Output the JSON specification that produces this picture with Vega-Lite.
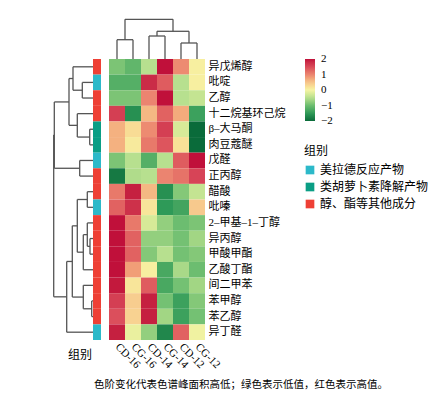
{
  "$schema": "https://vega.github.io/schema/vega-lite/v6.json",
  "padding": {"left": 53, "top": 17, "right": 5, "bottom": 5},
  "config": {
    "view": {"stroke": null},
    "font": "Liberation Serif, Noto Sans CJK SC",
    "axis": {"labelColor": "#000", "labelFont": "Liberation Serif, Noto Sans CJK SC"},
    "legend": {"labelColor": "#000", "titleColor": "#000", "labelFont": "Liberation Serif, Noto Sans CJK SC", "titleFont": "Liberation Serif, Noto Sans CJK SC"}
  },
  "title": {"text": "色阶变化代表色谱峰面积高低；绿色表示低值，红色表示高值。", "orient": "bottom", "anchor": "middle", "fontSize": 10.5, "fontWeight": "normal", "offset": 10, "color": "#000"},
  "datasets": {
    "groups": [
      {"c": "异戊烯醇", "g": "醇、酯等其他成分"},
      {"c": "吡啶", "g": "美拉德反应产物"},
      {"c": "乙醇", "g": "醇、酯等其他成分"},
      {"c": "十二烷基环己烷", "g": "醇、酯等其他成分"},
      {"c": "β–大马酮", "g": "类胡萝卜素降解产物"},
      {"c": "肉豆蔻醚", "g": "类胡萝卜素降解产物"},
      {"c": "戊醛", "g": "美拉德反应产物"},
      {"c": "正丙醇", "g": "醇、酯等其他成分"},
      {"c": "醋酸", "g": "醇、酯等其他成分"},
      {"c": "吡嗪", "g": "美拉德反应产物"},
      {"c": "2–甲基–1–丁醇", "g": "醇、酯等其他成分"},
      {"c": "异丙醇", "g": "醇、酯等其他成分"},
      {"c": "甲酸甲酯", "g": "醇、酯等其他成分"},
      {"c": "乙酸丁酯", "g": "醇、酯等其他成分"},
      {"c": "间二甲苯", "g": "醇、酯等其他成分"},
      {"c": "苯甲醇", "g": "醇、酯等其他成分"},
      {"c": "苯乙醇", "g": "醇、酯等其他成分"},
      {"c": "异丁醛", "g": "美拉德反应产物"}
    ],
    "cells": [
      {"c": "异戊烯醇", "s": "CD-16", "v": -0.9}, {"c": "异戊烯醇", "s": "CG-16", "v": -1.1}, {"c": "异戊烯醇", "s": "CD-14", "v": -0.5}, {"c": "异戊烯醇", "s": "CG-14", "v": 2.0}, {"c": "异戊烯醇", "s": "CD-12", "v": 0.95}, {"c": "异戊烯醇", "s": "CG-12", "v": 0.05},
      {"c": "吡啶", "s": "CD-16", "v": -1.2}, {"c": "吡啶", "s": "CG-16", "v": -1.2}, {"c": "吡啶", "s": "CD-14", "v": 1.8}, {"c": "吡啶", "s": "CG-14", "v": 1.35}, {"c": "吡啶", "s": "CD-12", "v": -0.5}, {"c": "吡啶", "s": "CG-12", "v": 0.05},
      {"c": "乙醇", "s": "CD-16", "v": -0.9}, {"c": "乙醇", "s": "CG-16", "v": -0.9}, {"c": "乙醇", "s": "CD-14", "v": 1.0}, {"c": "乙醇", "s": "CG-14", "v": 2.0}, {"c": "乙醇", "s": "CD-12", "v": -0.5}, {"c": "乙醇", "s": "CG-12", "v": -0.4},
      {"c": "十二烷基环己烷", "s": "CD-16", "v": 1.6}, {"c": "十二烷基环己烷", "s": "CG-16", "v": -1.6}, {"c": "十二烷基环己烷", "s": "CD-14", "v": 0.6}, {"c": "十二烷基环己烷", "s": "CG-14", "v": 1.3}, {"c": "十二烷基环己烷", "s": "CD-12", "v": 0.7}, {"c": "十二烷基环己烷", "s": "CG-12", "v": -1.4},
      {"c": "β–大马酮", "s": "CD-16", "v": 0.65}, {"c": "β–大马酮", "s": "CG-16", "v": 0.25}, {"c": "β–大马酮", "s": "CD-14", "v": 0.95}, {"c": "β–大马酮", "s": "CG-14", "v": 1.6}, {"c": "β–大马酮", "s": "CD-12", "v": -0.25}, {"c": "β–大马酮", "s": "CG-12", "v": -2.0},
      {"c": "肉豆蔻醚", "s": "CD-16", "v": 0.65}, {"c": "肉豆蔻醚", "s": "CG-16", "v": 0.1}, {"c": "肉豆蔻醚", "s": "CD-14", "v": 1.1}, {"c": "肉豆蔻醚", "s": "CG-14", "v": 1.4}, {"c": "肉豆蔻醚", "s": "CD-12", "v": 0.2}, {"c": "肉豆蔻醚", "s": "CG-12", "v": -2.0},
      {"c": "戊醛", "s": "CD-16", "v": -0.9}, {"c": "戊醛", "s": "CG-16", "v": -0.5}, {"c": "戊醛", "s": "CD-14", "v": -1.2}, {"c": "戊醛", "s": "CG-14", "v": -0.5}, {"c": "戊醛", "s": "CD-12", "v": 1.35}, {"c": "戊醛", "s": "CG-12", "v": 2.0},
      {"c": "正丙醇", "s": "CD-16", "v": -1.85}, {"c": "正丙醇", "s": "CG-16", "v": -0.55}, {"c": "正丙醇", "s": "CD-14", "v": -0.5}, {"c": "正丙醇", "s": "CG-14", "v": 1.0}, {"c": "正丙醇", "s": "CD-12", "v": 1.15}, {"c": "正丙醇", "s": "CG-12", "v": 1.55},
      {"c": "醋酸", "s": "CD-16", "v": 1.1}, {"c": "醋酸", "s": "CG-16", "v": 1.9}, {"c": "醋酸", "s": "CD-14", "v": 0.6}, {"c": "醋酸", "s": "CG-14", "v": -1.6}, {"c": "醋酸", "s": "CD-12", "v": -0.85}, {"c": "醋酸", "s": "CG-12", "v": -0.4},
      {"c": "吡嗪", "s": "CD-16", "v": 1.3}, {"c": "吡嗪", "s": "CG-16", "v": 1.75}, {"c": "吡嗪", "s": "CD-14", "v": 0.15}, {"c": "吡嗪", "s": "CG-14", "v": -1.5}, {"c": "吡嗪", "s": "CD-12", "v": -1.35}, {"c": "吡嗪", "s": "CG-12", "v": 0.45},
      {"c": "2–甲基–1–丁醇", "s": "CD-16", "v": 2.0}, {"c": "2–甲基–1–丁醇", "s": "CG-16", "v": 1.1}, {"c": "2–甲基–1–丁醇", "s": "CD-14", "v": -0.25}, {"c": "2–甲基–1–丁醇", "s": "CG-14", "v": -0.75}, {"c": "2–甲基–1–丁醇", "s": "CD-12", "v": -1.0}, {"c": "2–甲基–1–丁醇", "s": "CG-12", "v": -0.9},
      {"c": "异丙醇", "s": "CD-16", "v": 2.0}, {"c": "异丙醇", "s": "CG-16", "v": 1.3}, {"c": "异丙醇", "s": "CD-14", "v": -0.75}, {"c": "异丙醇", "s": "CG-14", "v": -0.75}, {"c": "异丙醇", "s": "CD-12", "v": -0.95}, {"c": "异丙醇", "s": "CG-12", "v": -0.65},
      {"c": "甲酸甲酯", "s": "CD-16", "v": 2.0}, {"c": "甲酸甲酯", "s": "CG-16", "v": 1.3}, {"c": "甲酸甲酯", "s": "CD-14", "v": -0.85}, {"c": "甲酸甲酯", "s": "CG-14", "v": -0.5}, {"c": "甲酸甲酯", "s": "CD-12", "v": -0.95}, {"c": "甲酸甲酯", "s": "CG-12", "v": -0.85},
      {"c": "乙酸丁酯", "s": "CD-16", "v": 2.0}, {"c": "乙酸丁酯", "s": "CG-16", "v": 0.8}, {"c": "乙酸丁酯", "s": "CD-14", "v": 0.05}, {"c": "乙酸丁酯", "s": "CG-14", "v": -1.3}, {"c": "乙酸丁酯", "s": "CD-12", "v": -0.6}, {"c": "乙酸丁酯", "s": "CG-12", "v": -1.0},
      {"c": "间二甲苯", "s": "CD-16", "v": 1.95}, {"c": "间二甲苯", "s": "CG-16", "v": 0.15}, {"c": "间二甲苯", "s": "CD-14", "v": 1.35}, {"c": "间二甲苯", "s": "CG-14", "v": -1.3}, {"c": "间二甲苯", "s": "CD-12", "v": -0.95}, {"c": "间二甲苯", "s": "CG-12", "v": -0.65},
      {"c": "苯甲醇", "s": "CD-16", "v": 1.6}, {"c": "苯甲醇", "s": "CG-16", "v": 0.4}, {"c": "苯甲醇", "s": "CD-14", "v": 1.9}, {"c": "苯甲醇", "s": "CG-14", "v": -0.95}, {"c": "苯甲醇", "s": "CD-12", "v": -1.4}, {"c": "苯甲醇", "s": "CG-12", "v": -0.85},
      {"c": "苯乙醇", "s": "CD-16", "v": 1.45}, {"c": "苯乙醇", "s": "CG-16", "v": 0.35}, {"c": "苯乙醇", "s": "CD-14", "v": 1.9}, {"c": "苯乙醇", "s": "CG-14", "v": -0.65}, {"c": "苯乙醇", "s": "CD-12", "v": -1.4}, {"c": "苯乙醇", "s": "CG-12", "v": -0.95},
      {"c": "异丁醛", "s": "CD-16", "v": 1.9}, {"c": "异丁醛", "s": "CG-16", "v": -0.1}, {"c": "异丁醛", "s": "CD-14", "v": -0.75}, {"c": "异丁醛", "s": "CG-14", "v": -1.7}, {"c": "异丁醛", "s": "CD-12", "v": 1.3}, {"c": "异丁醛", "s": "CG-12", "v": -0.05}
    ],
    "rowtree": [
      {"h": 10.7, "p1": 1.5, "h1": 0, "p2": 2.5, "h2": 0},
      {"h": 20, "p1": 0.5, "h1": 0, "p2": 2.0, "h2": 10.7},
      {"h": 3.3, "p1": 4.5, "h1": 0, "p2": 5.5, "h2": 0},
      {"h": 15.7, "p1": 3.5, "h1": 0, "p2": 5.0, "h2": 3.3},
      {"h": 24, "p1": 1.25, "h1": 20, "p2": 4.25, "h2": 15.7},
      {"h": 13.3, "p1": 6.5, "h1": 0, "p2": 7.5, "h2": 0},
      {"h": 38.7, "p1": 2.75, "h1": 24, "p2": 7.0, "h2": 13.3},
      {"h": 5.7, "p1": 8.5, "h1": 0, "p2": 9.5, "h2": 0},
      {"h": 3, "p1": 11.5, "h1": 0, "p2": 12.5, "h2": 0},
      {"h": 5.7, "p1": 10.5, "h1": 0, "p2": 12.0, "h2": 3},
      {"h": 9.7, "p1": 11.25, "h1": 5.7, "p2": 13.5, "h2": 0},
      {"h": 15.7, "p1": 9.0, "h1": 5.7, "p2": 12.375, "h2": 9.7},
      {"h": 1.3, "p1": 15.5, "h1": 0, "p2": 16.5, "h2": 0},
      {"h": 9.7, "p1": 14.5, "h1": 0, "p2": 16.0, "h2": 1.3},
      {"h": 20.7, "p1": 10.6875, "h1": 15.7, "p2": 15.25, "h2": 9.7},
      {"h": 26.3, "p1": 12.96875, "h1": 20.7, "p2": 17.5, "h2": 0},
      {"h": 39.3, "p1": 4.875, "h1": 38.7, "p2": 15.234, "h2": 26.3}
    ],
    "coltree": [
      {"h": 19.3, "p1": 0.5, "h1": 0, "p2": 1.5, "h2": 0},
      {"h": 23, "p1": 2.5, "h1": 0, "p2": 3.5, "h2": 0},
      {"h": 16, "p1": 4.5, "h1": 0, "p2": 5.5, "h2": 0},
      {"h": 27.7, "p1": 3.0, "h1": 23, "p2": 5.0, "h2": 16},
      {"h": 39.7, "p1": 1.0, "h1": 19.3, "p2": 4.0, "h2": 27.7}
    ]
  },
  "columns": 3,
  "spacing": 0,
  "bounds": "flush",
  "resolve": {"scale": {"color": "independent", "fill": "independent"}, "legend": {"color": "independent", "fill": "independent"}},
  "concat": [
    {"width": 40, "height": 42, "data": {"values": []}, "mark": "point"},
    {"width": 16, "height": 42, "data": {"values": []}, "mark": "point"},
    {
      "width": 96, "height": 42,
      "data": {"name": "coltree"},
      "layer": [
        {"mark": {"type": "rule", "color": "#555", "strokeWidth": 1.3},
         "encoding": {
           "y": {"field": "h", "type": "quantitative", "scale": {"domain": [0, 42], "nice": false, "zero": false}, "axis": null},
           "x": {"field": "p1", "type": "quantitative", "scale": {"domain": [0, 6], "nice": false, "zero": false}, "axis": null},
           "x2": {"field": "p2"}}},
        {"mark": {"type": "rule", "color": "#555", "strokeWidth": 1.3},
         "encoding": {
           "y": {"field": "h1", "type": "quantitative"},
           "y2": {"field": "h"},
           "x": {"field": "p1", "type": "quantitative"}}},
        {"mark": {"type": "rule", "color": "#555", "strokeWidth": 1.3},
         "encoding": {
           "y": {"field": "h2", "type": "quantitative"},
           "y2": {"field": "h"},
           "x": {"field": "p2", "type": "quantitative"}}}
      ]
    },
    {
      "width": 40, "height": 281,
      "data": {"name": "rowtree"},
      "layer": [
        {"mark": {"type": "rule", "color": "#555", "strokeWidth": 1.3},
         "encoding": {
           "x": {"field": "h", "type": "quantitative", "scale": {"domain": [0, 40], "reverse": true, "nice": false, "zero": false}, "axis": null},
           "y": {"field": "p1", "type": "quantitative", "scale": {"domain": [0, 18], "reverse": true, "nice": false, "zero": false}, "axis": null},
           "y2": {"field": "p2"}}},
        {"mark": {"type": "rule", "color": "#555", "strokeWidth": 1.3},
         "encoding": {
           "x": {"field": "h1", "type": "quantitative"},
           "x2": {"field": "h"},
           "y": {"field": "p1", "type": "quantitative"}}},
        {"mark": {"type": "rule", "color": "#555", "strokeWidth": 1.3},
         "encoding": {
           "x": {"field": "h2", "type": "quantitative"},
           "x2": {"field": "h"},
           "y": {"field": "p2", "type": "quantitative"}}}
      ]
    },
    {
      "width": 16, "height": 281,
      "data": {"name": "groups"},
      "mark": "rect",
      "encoding": {
        "x": {"datum": "组别", "type": "nominal", "scale": {"paddingInner": 0, "paddingOuter": 0.5, "align": 0},
              "axis": {"title": null, "labelAngle": 0, "labelAlign": "right", "labelBaseline": "top", "ticks": false, "domain": false, "labelFontSize": 12, "labelPadding": 9, "labelOffset": -5}},
        "y": {"field": "c", "type": "nominal", "sort": null, "scale": {"paddingInner": 0, "paddingOuter": 0}, "axis": null},
        "color": {"field": "g", "type": "nominal",
                  "scale": {"domain": ["美拉德反应产物", "类胡萝卜素降解产物", "醇、酯等其他成分"], "range": ["#2cb9c9", "#0a9e85", "#ee4035"]},
                  "legend": null}
      }
    },
    {
      "width": 96, "height": 281,
      "layer": [
        {
          "data": {"name": "cells"},
          "mark": "rect",
          "encoding": {
            "x": {"field": "s", "type": "nominal", "sort": ["CD-16", "CG-16", "CD-14", "CG-14", "CD-12", "CG-12"],
                  "scale": {"paddingInner": 0, "paddingOuter": 0},
                  "axis": {"title": null, "labelAngle": 45, "labelAlign": "left", "labelBaseline": "middle", "ticks": false, "domain": false, "labelFontSize": 11, "labelPadding": 5}},
            "y": {"field": "c", "type": "nominal", "sort": null,
                  "scale": {"paddingInner": 0, "paddingOuter": 0},
                  "axis": {"orient": "right", "title": null, "ticks": false, "domain": false, "labelFontSize": 11, "labelPadding": 3}},
            "color": {"field": "v", "type": "quantitative",
                      "scale": {"domain": [-2, 2],
                                "range": ["#0a6b3a", "#2e9a58", "#6cbd70", "#b7e08f", "#f6f4a4", "#f6c48c", "#eb8470", "#d9485a", "#c0103a"],
                                "clamp": true, "nice": false},
                      "legend": {"title": null, "orient": "none", "legendX": 196, "legendY": 0, "values": [2, 1, 0, -1, -2], "gradientLength": 62, "gradientThickness": 10, "labelFontSize": 11, "labelOverlap": false, "labelOffset": 6, "direction": "vertical",
                                 "encode": {"labels": {"update": {"baseline": {"value": "middle"}}}}}}
          }
        },
        {
          "data": {"name": "groups"},
          "mark": {"type": "square", "size": 0, "opacity": 1},
          "encoding": {
            "y": {"field": "c", "type": "nominal", "sort": null},
            "fill": {"field": "g", "type": "nominal",
                     "scale": {"domain": ["美拉德反应产物", "类胡萝卜素降解产物", "醇、酯等其他成分"], "range": ["#2cb9c9", "#0a9e85", "#ee4035"]},
                     "legend": {"title": "组别", "orient": "none", "legendX": 195, "legendY": 87, "symbolType": "square", "symbolSize": 75, "labelFontSize": 12, "titleFontSize": 12, "titleFontWeight": "normal", "titlePadding": 6, "rowPadding": 5}}
          }
        }
      ]
    }
  ]
}
